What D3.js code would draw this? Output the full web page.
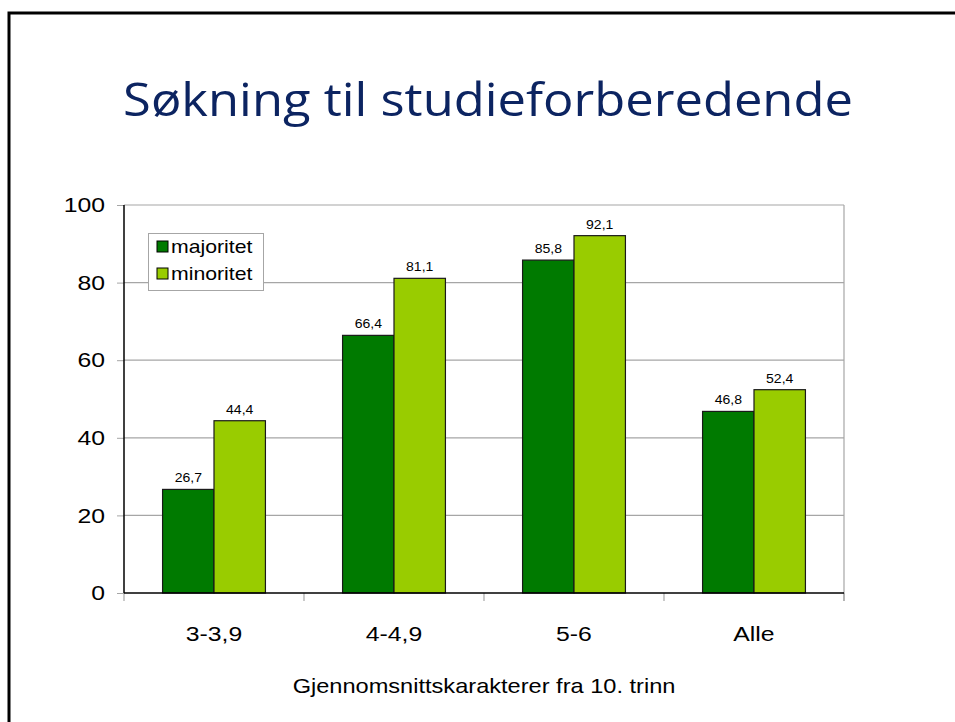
<!DOCTYPE html>
<html><head><meta charset="utf-8">
<script src="https://cdn.jsdelivr.net/npm/d3@7"></script>
<style>body{margin:0;background:#fff;}svg{display:block;}</style>
</head><body>
<svg id="c" width="955" height="722"></svg>
<script>
const categories = ["3-3,9", "4-4,9", "5-6", "Alle"];
const seriesNames = ["majoritet", "minoritet"];
const majoritet = [26.7, 66.4, 85.8, 46.8];
const minoritet = [44.4, 81.1, 92.1, 52.4];
const yTicks = [0, 20, 40, 60, 80, 100];
const colors = ["#007A00", "#99CC00"];
const chartTitle = "Søkning til studieforberedende";
const xTitle = "Gjennomsnittskarakterer fra 10. trinn";

(function () {
const FONT = "'Liberation Sans', Arial, sans-serif";
const SX = 1.18;
const svg = d3.select("#c");
// slide frame
svg.append("path").attr("d", "M9,730 L9,13 L965,13").attr("fill", "none").attr("stroke", "#000").attr("stroke-width", 3);

const t = svg.append("text").attr("x", 0).attr("y", 0).attr("text-anchor", "middle")
  .attr("font-family", "'Open Sans', 'Noto Sans', sans-serif").attr("font-size", 46).attr("fill", "#0C2461").text(chartTitle);
const w = t.node().getComputedTextLength();
t.attr("transform", `translate(488,116) scale(${730 / w},1)`);

const pLeft = 124, pRight = 844, pTop = 205, pBottom = 593;
const x = d3.scaleBand().domain(categories).range([pLeft, pRight]).paddingInner(0).paddingOuter(0);
const y = d3.scaleLinear().domain([0, 100]).range([pBottom, pTop]);
const xs = d3.scaleBand().domain(seriesNames).range([0, x.bandwidth()]).paddingInner(0).paddingOuter(0.75);

// gridlines
svg.append("g").selectAll("line").data(yTicks.filter(d => d > 0)).join("line")
  .attr("x1", pLeft).attr("x2", pRight).attr("y1", d => y(d)).attr("y2", d => y(d))
  .attr("stroke", "#A6A6A6").attr("stroke-width", 1.2);
svg.append("line").attr("x1", pRight).attr("x2", pRight).attr("y1", pTop).attr("y2", pBottom + 8).attr("stroke", "#A6A6A6").attr("stroke-width", 1.2);

// y axis
const ya = svg.append("g").attr("transform", `translate(${pLeft},0)`)
  .call(d3.axisLeft(y).tickValues(yTicks).tickSize(7).tickPadding(14).tickFormat(d3.format("d")));
ya.select(".domain").remove();
ya.selectAll(".tick line").attr("stroke", "#A6A6A6");
ya.selectAll("text").attr("font-family", FONT).attr("font-size", 21).attr("fill", "#000")
  .attr("x", -19 / SX).attr("transform", `scale(${SX},1)`);

// x ticks at category boundaries
svg.append("g").selectAll("line").data(d3.range(categories.length + 1)).join("line")
  .attr("x1", i => pLeft + i * x.step()).attr("x2", i => pLeft + i * x.step())
  .attr("y1", pBottom).attr("y2", pBottom + 8).attr("stroke", "#A6A6A6").attr("stroke-width", 1.2);

// bars
const data = categories.map((c, i) => ({c, vals: [majoritet[i], minoritet[i]]}));
const g = svg.append("g");
data.forEach(d => {
  d.vals.forEach((v, j) => {
    const bx = x(d.c) + xs(seriesNames[j]);
    g.append("rect").attr("x", bx).attr("y", y(v)).attr("width", xs.bandwidth()).attr("height", y(0) - y(v))
      .attr("fill", colors[j]).attr("stroke", "#1a1a1a").attr("stroke-width", 1.2);
    g.append("text").attr("transform", `translate(${bx + xs.bandwidth() / 2},${y(v) - 7}) scale(1.08,1)`).attr("text-anchor", "middle")
      .attr("font-family", FONT).attr("font-size", 13).attr("fill", "#000")
      .text(String(v).replace(".", ","));
  });
});

// axes lines
svg.append("line").attr("x1", pLeft).attr("x2", pLeft).attr("y1", pTop).attr("y2", pBottom).attr("stroke", "#000").attr("stroke-width", 1.5);
svg.append("line").attr("x1", pLeft).attr("x2", pRight).attr("y1", pBottom).attr("y2", pBottom).attr("stroke", "#000").attr("stroke-width", 1.5);

// x labels
svg.append("g").selectAll("text").data(categories).join("text")
  .attr("transform", d => `translate(${x(d) + x.bandwidth() / 2},641) scale(${SX},1)`).attr("text-anchor", "middle")
  .attr("font-family", FONT).attr("font-size", 21).attr("fill", "#000").text(d => d);
svg.append("text").attr("transform", `translate(484,693) scale(${SX},1)`).attr("text-anchor", "middle")
  .attr("font-family", FONT).attr("font-size", 20).attr("fill", "#000").text(xTitle);

// legend
const lg = svg.append("g");
lg.append("rect").attr("x", 148.5).attr("y", 233.5).attr("width", 115).attr("height", 57).attr("fill", "#fff").attr("stroke", "#A6A6A6");
seriesNames.forEach((s, i) => {
  const yy = 246 + i * 27;
  lg.append("rect").attr("x", 157).attr("y", yy - 5).attr("width", 11).attr("height", 11).attr("fill", colors[i]).attr("stroke", "#000").attr("stroke-width", 1);
  lg.append("text").attr("transform", `translate(171,${yy + 6.5}) scale(${SX},1)`).attr("font-family", FONT).attr("font-size", 18).attr("fill", "#000").text(s);
});
})();
</script>
</body></html>
